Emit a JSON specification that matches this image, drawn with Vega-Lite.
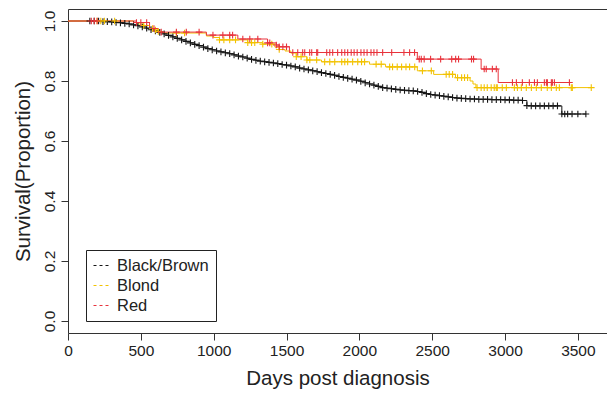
{
  "$schema": "https://vega.github.io/schema/vega-lite/v6.json",
  "width": 539,
  "height": 324,
  "autosize": {"type": "none"},
  "padding": {"left": 68, "top": 9, "right": 0, "bottom": 60},
  "background": "white",
  "config": {
    "view": {"stroke": "#333", "strokeWidth": 1},
    "font": "Liberation Sans",
    "axis": {
      "grid": false, "domain": false, "tickSize": 7, "tickColor": "#333",
      "labelFontSize": 15.5, "titleFontSize": 20.5, "labelColor": "#222", "titleColor": "#222",
      "titleFontWeight": "normal", "labelFont": "Liberation Sans", "titleFont": "Liberation Sans"
    }
  },
  "data": {"values": [
    {"g":"Black/Brown","t":0,"s":1.0,"c":0},
    {"g":"Black/Brown","t":150,"s":1.0,"c":1},{"g":"Black/Brown","t":180,"s":1.0,"c":1},{"g":"Black/Brown","t":210,"s":1.0,"c":1},{"g":"Black/Brown","t":240,"s":0.998,"c":1},{"g":"Black/Brown","t":270,"s":0.998,"c":1},{"g":"Black/Brown","t":300,"s":0.997,"c":1},{"g":"Black/Brown","t":330,"s":0.995,"c":1},{"g":"Black/Brown","t":360,"s":0.994,"c":1},{"g":"Black/Brown","t":390,"s":0.992,"c":1},{"g":"Black/Brown","t":420,"s":0.99,"c":1},{"g":"Black/Brown","t":450,"s":0.987,"c":1},{"g":"Black/Brown","t":480,"s":0.984,"c":1},{"g":"Black/Brown","t":510,"s":0.98,"c":1},{"g":"Black/Brown","t":540,"s":0.976,"c":1},{"g":"Black/Brown","t":570,"s":0.971,"c":1},{"g":"Black/Brown","t":600,"s":0.967,"c":1},{"g":"Black/Brown","t":630,"s":0.962,"c":1},{"g":"Black/Brown","t":660,"s":0.957,"c":1},{"g":"Black/Brown","t":690,"s":0.952,"c":1},{"g":"Black/Brown","t":720,"s":0.947,"c":1},{"g":"Black/Brown","t":750,"s":0.942,"c":1},{"g":"Black/Brown","t":780,"s":0.937,"c":1},{"g":"Black/Brown","t":810,"s":0.932,"c":1},{"g":"Black/Brown","t":840,"s":0.927,"c":1},{"g":"Black/Brown","t":870,"s":0.922,"c":1},{"g":"Black/Brown","t":900,"s":0.918,"c":1},{"g":"Black/Brown","t":930,"s":0.913,"c":1},{"g":"Black/Brown","t":960,"s":0.908,"c":1},{"g":"Black/Brown","t":990,"s":0.904,"c":1},{"g":"Black/Brown","t":1020,"s":0.9,"c":1},{"g":"Black/Brown","t":1050,"s":0.897,"c":1},{"g":"Black/Brown","t":1080,"s":0.894,"c":1},{"g":"Black/Brown","t":1110,"s":0.891,"c":1},{"g":"Black/Brown","t":1140,"s":0.887,"c":1},{"g":"Black/Brown","t":1170,"s":0.883,"c":1},{"g":"Black/Brown","t":1200,"s":0.88,"c":1},{"g":"Black/Brown","t":1230,"s":0.876,"c":1},{"g":"Black/Brown","t":1260,"s":0.872,"c":1},{"g":"Black/Brown","t":1290,"s":0.869,"c":1},{"g":"Black/Brown","t":1320,"s":0.866,"c":1},{"g":"Black/Brown","t":1350,"s":0.864,"c":1},{"g":"Black/Brown","t":1380,"s":0.862,"c":1},{"g":"Black/Brown","t":1410,"s":0.86,"c":1},{"g":"Black/Brown","t":1440,"s":0.858,"c":1},{"g":"Black/Brown","t":1470,"s":0.855,"c":1},{"g":"Black/Brown","t":1500,"s":0.853,"c":1},{"g":"Black/Brown","t":1530,"s":0.85,"c":1},{"g":"Black/Brown","t":1560,"s":0.847,"c":1},{"g":"Black/Brown","t":1590,"s":0.843,"c":1},{"g":"Black/Brown","t":1620,"s":0.84,"c":1},{"g":"Black/Brown","t":1650,"s":0.837,"c":1},{"g":"Black/Brown","t":1680,"s":0.834,"c":1},{"g":"Black/Brown","t":1710,"s":0.831,"c":1},{"g":"Black/Brown","t":1740,"s":0.828,"c":1},{"g":"Black/Brown","t":1770,"s":0.825,"c":1},{"g":"Black/Brown","t":1800,"s":0.822,"c":1},{"g":"Black/Brown","t":1830,"s":0.819,"c":1},{"g":"Black/Brown","t":1860,"s":0.815,"c":1},{"g":"Black/Brown","t":1890,"s":0.812,"c":1},{"g":"Black/Brown","t":1920,"s":0.809,"c":1},{"g":"Black/Brown","t":1950,"s":0.806,"c":1},{"g":"Black/Brown","t":1980,"s":0.803,"c":1},{"g":"Black/Brown","t":2010,"s":0.799,"c":1},{"g":"Black/Brown","t":2040,"s":0.794,"c":1},{"g":"Black/Brown","t":2070,"s":0.79,"c":1},{"g":"Black/Brown","t":2100,"s":0.786,"c":1},{"g":"Black/Brown","t":2130,"s":0.782,"c":1},{"g":"Black/Brown","t":2160,"s":0.778,"c":1},{"g":"Black/Brown","t":2190,"s":0.776,"c":1},{"g":"Black/Brown","t":2220,"s":0.774,"c":1},{"g":"Black/Brown","t":2250,"s":0.772,"c":1},{"g":"Black/Brown","t":2280,"s":0.77,"c":1},{"g":"Black/Brown","t":2310,"s":0.769,"c":1},{"g":"Black/Brown","t":2340,"s":0.768,"c":1},{"g":"Black/Brown","t":2370,"s":0.767,"c":1},{"g":"Black/Brown","t":2400,"s":0.765,"c":1},{"g":"Black/Brown","t":2430,"s":0.762,"c":1},{"g":"Black/Brown","t":2460,"s":0.758,"c":1},{"g":"Black/Brown","t":2490,"s":0.755,"c":1},{"g":"Black/Brown","t":2520,"s":0.753,"c":1},{"g":"Black/Brown","t":2550,"s":0.751,"c":1},{"g":"Black/Brown","t":2580,"s":0.749,"c":1},{"g":"Black/Brown","t":2610,"s":0.747,"c":1},{"g":"Black/Brown","t":2640,"s":0.745,"c":1},{"g":"Black/Brown","t":2670,"s":0.743,"c":1},{"g":"Black/Brown","t":2700,"s":0.742,"c":1},{"g":"Black/Brown","t":2730,"s":0.741,"c":1},{"g":"Black/Brown","t":2760,"s":0.74,"c":1},{"g":"Black/Brown","t":2790,"s":0.74,"c":1},{"g":"Black/Brown","t":2820,"s":0.739,"c":1},{"g":"Black/Brown","t":2850,"s":0.739,"c":1},{"g":"Black/Brown","t":2880,"s":0.739,"c":1},{"g":"Black/Brown","t":2910,"s":0.738,"c":1},{"g":"Black/Brown","t":2940,"s":0.738,"c":1},{"g":"Black/Brown","t":2970,"s":0.738,"c":1},{"g":"Black/Brown","t":3000,"s":0.737,"c":1},{"g":"Black/Brown","t":3030,"s":0.737,"c":1},{"g":"Black/Brown","t":3060,"s":0.736,"c":1},{"g":"Black/Brown","t":3090,"s":0.736,"c":1},{"g":"Black/Brown","t":3120,"s":0.735,"c":1},{"g":"Black/Brown","t":3150,"s":0.718,"c":1},{"g":"Black/Brown","t":3180,"s":0.717,"c":1},{"g":"Black/Brown","t":3210,"s":0.717,"c":1},{"g":"Black/Brown","t":3240,"s":0.717,"c":1},{"g":"Black/Brown","t":3270,"s":0.717,"c":1},{"g":"Black/Brown","t":3300,"s":0.717,"c":1},{"g":"Black/Brown","t":3330,"s":0.717,"c":1},{"g":"Black/Brown","t":3360,"s":0.717,"c":1},{"g":"Black/Brown","t":3390,"s":0.69,"c":1},{"g":"Black/Brown","t":3410,"s":0.69,"c":1},{"g":"Black/Brown","t":3430,"s":0.69,"c":1},{"g":"Black/Brown","t":3460,"s":0.69,"c":1},{"g":"Black/Brown","t":3500,"s":0.69,"c":1},{"g":"Black/Brown","t":3555,"s":0.69,"c":1},

    {"g":"Blond","t":0,"s":1.0,"c":0},
    {"g":"Blond","t":200,"s":1.0,"c":1},{"g":"Blond","t":225,"s":1.0,"c":1},{"g":"Blond","t":250,"s":1.0,"c":1},{"g":"Blond","t":320,"s":1.0,"c":1},{"g":"Blond","t":450,"s":0.995,"c":0},{"g":"Blond","t":480,"s":0.99,"c":0},{"g":"Blond","t":520,"s":0.985,"c":1},{"g":"Blond","t":560,"s":0.975,"c":0},{"g":"Blond","t":580,"s":0.975,"c":1},{"g":"Blond","t":600,"s":0.97,"c":1},{"g":"Blond","t":620,"s":0.965,"c":1},{"g":"Blond","t":650,"s":0.96,"c":0},{"g":"Blond","t":744,"s":0.96,"c":1},{"g":"Blond","t":800,"s":0.96,"c":1},{"g":"Blond","t":950,"s":0.95,"c":0},{"g":"Blond","t":1000,"s":0.945,"c":0},{"g":"Blond","t":1040,"s":0.937,"c":1},{"g":"Blond","t":1070,"s":0.937,"c":1},{"g":"Blond","t":1110,"s":0.937,"c":1},{"g":"Blond","t":1150,"s":0.937,"c":1},{"g":"Blond","t":1234,"s":0.928,"c":1},{"g":"Blond","t":1260,"s":0.928,"c":1},{"g":"Blond","t":1282,"s":0.928,"c":1},{"g":"Blond","t":1337,"s":0.923,"c":1},{"g":"Blond","t":1399,"s":0.923,"c":1},{"g":"Blond","t":1420,"s":0.913,"c":0},{"g":"Blond","t":1450,"s":0.905,"c":1},{"g":"Blond","t":1490,"s":0.9,"c":0},{"g":"Blond","t":1530,"s":0.893,"c":0},{"g":"Blond","t":1567,"s":0.881,"c":1},{"g":"Blond","t":1600,"s":0.881,"c":1},{"g":"Blond","t":1640,"s":0.87,"c":1},{"g":"Blond","t":1660,"s":0.87,"c":1},{"g":"Blond","t":1707,"s":0.87,"c":1},{"g":"Blond","t":1740,"s":0.864,"c":0},{"g":"Blond","t":1762,"s":0.864,"c":1},{"g":"Blond","t":1797,"s":0.864,"c":1},{"g":"Blond","t":1831,"s":0.864,"c":1},{"g":"Blond","t":1879,"s":0.864,"c":1},{"g":"Blond","t":1900,"s":0.864,"c":1},{"g":"Blond","t":1920,"s":0.864,"c":1},{"g":"Blond","t":1954,"s":0.864,"c":1},{"g":"Blond","t":1989,"s":0.864,"c":1},{"g":"Blond","t":2015,"s":0.864,"c":1},{"g":"Blond","t":2036,"s":0.864,"c":1},{"g":"Blond","t":2070,"s":0.856,"c":0},{"g":"Blond","t":2115,"s":0.856,"c":1},{"g":"Blond","t":2150,"s":0.856,"c":1},{"g":"Blond","t":2180,"s":0.847,"c":0},{"g":"Blond","t":2208,"s":0.847,"c":1},{"g":"Blond","t":2228,"s":0.847,"c":1},{"g":"Blond","t":2260,"s":0.847,"c":1},{"g":"Blond","t":2290,"s":0.847,"c":1},{"g":"Blond","t":2320,"s":0.847,"c":1},{"g":"Blond","t":2345,"s":0.847,"c":1},{"g":"Blond","t":2380,"s":0.847,"c":1},{"g":"Blond","t":2398,"s":0.834,"c":0},{"g":"Blond","t":2433,"s":0.834,"c":1},{"g":"Blond","t":2494,"s":0.834,"c":1},{"g":"Blond","t":2510,"s":0.822,"c":0},{"g":"Blond","t":2596,"s":0.822,"c":1},{"g":"Blond","t":2617,"s":0.822,"c":1},{"g":"Blond","t":2640,"s":0.822,"c":1},{"g":"Blond","t":2660,"s":0.811,"c":0},{"g":"Blond","t":2674,"s":0.811,"c":1},{"g":"Blond","t":2702,"s":0.811,"c":1},{"g":"Blond","t":2722,"s":0.811,"c":1},{"g":"Blond","t":2743,"s":0.811,"c":1},{"g":"Blond","t":2760,"s":0.8,"c":0},{"g":"Blond","t":2780,"s":0.79,"c":0},{"g":"Blond","t":2800,"s":0.778,"c":0},{"g":"Blond","t":2808,"s":0.778,"c":1},{"g":"Blond","t":2836,"s":0.778,"c":1},{"g":"Blond","t":2857,"s":0.778,"c":1},{"g":"Blond","t":2878,"s":0.778,"c":1},{"g":"Blond","t":2905,"s":0.778,"c":1},{"g":"Blond","t":2926,"s":0.778,"c":1},{"g":"Blond","t":2940,"s":0.778,"c":1},{"g":"Blond","t":2947,"s":0.778,"c":1},{"g":"Blond","t":2981,"s":0.778,"c":1},{"g":"Blond","t":3009,"s":0.778,"c":1},{"g":"Blond","t":3064,"s":0.778,"c":1},{"g":"Blond","t":3085,"s":0.778,"c":1},{"g":"Blond","t":3112,"s":0.778,"c":1},{"g":"Blond","t":3146,"s":0.778,"c":1},{"g":"Blond","t":3181,"s":0.778,"c":1},{"g":"Blond","t":3215,"s":0.778,"c":1},{"g":"Blond","t":3249,"s":0.778,"c":1},{"g":"Blond","t":3290,"s":0.778,"c":1},{"g":"Blond","t":3318,"s":0.778,"c":1},{"g":"Blond","t":3352,"s":0.778,"c":1},{"g":"Blond","t":3373,"s":0.778,"c":1},{"g":"Blond","t":3455,"s":0.778,"c":1},{"g":"Blond","t":3462,"s":0.778,"c":1},{"g":"Blond","t":3592,"s":0.778,"c":1},

    {"g":"Red","t":0,"s":1.0,"c":0},
    {"g":"Red","t":160,"s":1.0,"c":1},{"g":"Red","t":180,"s":1.0,"c":1},{"g":"Red","t":200,"s":1.0,"c":1},{"g":"Red","t":470,"s":0.995,"c":1},{"g":"Red","t":500,"s":0.995,"c":1},{"g":"Red","t":540,"s":0.995,"c":1},{"g":"Red","t":560,"s":0.975,"c":0},{"g":"Red","t":590,"s":0.975,"c":1},{"g":"Red","t":620,"s":0.963,"c":0},{"g":"Red","t":640,"s":0.963,"c":1},{"g":"Red","t":744,"s":0.963,"c":1},{"g":"Red","t":812,"s":0.963,"c":1},{"g":"Red","t":900,"s":0.963,"c":1},{"g":"Red","t":950,"s":0.953,"c":0},{"g":"Red","t":995,"s":0.953,"c":1},{"g":"Red","t":1063,"s":0.953,"c":1},{"g":"Red","t":1110,"s":0.953,"c":1},{"g":"Red","t":1130,"s":0.953,"c":1},{"g":"Red","t":1166,"s":0.94,"c":0},{"g":"Red","t":1200,"s":0.94,"c":1},{"g":"Red","t":1248,"s":0.94,"c":1},{"g":"Red","t":1303,"s":0.94,"c":1},{"g":"Red","t":1370,"s":0.927,"c":1},{"g":"Red","t":1385,"s":0.927,"c":1},{"g":"Red","t":1430,"s":0.92,"c":1},{"g":"Red","t":1450,"s":0.914,"c":1},{"g":"Red","t":1475,"s":0.914,"c":1},{"g":"Red","t":1500,"s":0.914,"c":1},{"g":"Red","t":1520,"s":0.895,"c":0},{"g":"Red","t":1543,"s":0.895,"c":1},{"g":"Red","t":1577,"s":0.895,"c":1},{"g":"Red","t":1611,"s":0.895,"c":1},{"g":"Red","t":1625,"s":0.895,"c":1},{"g":"Red","t":1659,"s":0.895,"c":1},{"g":"Red","t":1673,"s":0.895,"c":1},{"g":"Red","t":1707,"s":0.895,"c":1},{"g":"Red","t":1714,"s":0.895,"c":1},{"g":"Red","t":1776,"s":0.895,"c":1},{"g":"Red","t":1797,"s":0.895,"c":1},{"g":"Red","t":1817,"s":0.895,"c":1},{"g":"Red","t":1851,"s":0.895,"c":1},{"g":"Red","t":1879,"s":0.895,"c":1},{"g":"Red","t":1900,"s":0.895,"c":1},{"g":"Red","t":1920,"s":0.895,"c":1},{"g":"Red","t":1944,"s":0.895,"c":1},{"g":"Red","t":1964,"s":0.895,"c":1},{"g":"Red","t":1985,"s":0.895,"c":1},{"g":"Red","t":2011,"s":0.895,"c":1},{"g":"Red","t":2032,"s":0.895,"c":1},{"g":"Red","t":2053,"s":0.895,"c":1},{"g":"Red","t":2080,"s":0.895,"c":1},{"g":"Red","t":2100,"s":0.895,"c":1},{"g":"Red","t":2121,"s":0.895,"c":1},{"g":"Red","t":2160,"s":0.895,"c":1},{"g":"Red","t":2222,"s":0.895,"c":1},{"g":"Red","t":2306,"s":0.895,"c":1},{"g":"Red","t":2345,"s":0.895,"c":1},{"g":"Red","t":2379,"s":0.895,"c":1},{"g":"Red","t":2398,"s":0.873,"c":0},{"g":"Red","t":2411,"s":0.873,"c":1},{"g":"Red","t":2425,"s":0.873,"c":1},{"g":"Red","t":2445,"s":0.873,"c":1},{"g":"Red","t":2489,"s":0.873,"c":1},{"g":"Red","t":2558,"s":0.873,"c":1},{"g":"Red","t":2634,"s":0.873,"c":1},{"g":"Red","t":2661,"s":0.873,"c":1},{"g":"Red","t":2681,"s":0.873,"c":1},{"g":"Red","t":2770,"s":0.873,"c":1},{"g":"Red","t":2784,"s":0.873,"c":1},{"g":"Red","t":2836,"s":0.84,"c":0},{"g":"Red","t":2857,"s":0.84,"c":1},{"g":"Red","t":2871,"s":0.84,"c":1},{"g":"Red","t":2913,"s":0.84,"c":1},{"g":"Red","t":2940,"s":0.84,"c":1},{"g":"Red","t":2953,"s":0.795,"c":0},{"g":"Red","t":3051,"s":0.795,"c":1},{"g":"Red","t":3078,"s":0.795,"c":1},{"g":"Red","t":3119,"s":0.795,"c":1},{"g":"Red","t":3167,"s":0.795,"c":1},{"g":"Red","t":3202,"s":0.795,"c":1},{"g":"Red","t":3222,"s":0.795,"c":1},{"g":"Red","t":3270,"s":0.795,"c":1},{"g":"Red","t":3284,"s":0.795,"c":1},{"g":"Red","t":3291,"s":0.795,"c":1},{"g":"Red","t":3318,"s":0.795,"c":1},{"g":"Red","t":3325,"s":0.795,"c":1},{"g":"Red","t":3339,"s":0.795,"c":1},{"g":"Red","t":3442,"s":0.795,"c":1},{"g":"Red","t":3454,"s":0.795,"c":0}
  ]},
  "encoding": {
    "x": {"field": "t", "type": "quantitative",
      "scale": {"domain": [0, 3700], "nice": false, "zero": false},
      "axis": {"title": "Days post diagnosis", "values": [0,500,1000,1500,2000,2500,3000,3500], "format": "d", "labelPadding": 3, "titlePadding": 10, "labelFlush": false}},
    "y": {"field": "s", "type": "quantitative",
      "scale": {"domain": [-0.04, 1.04], "nice": false, "zero": false},
      "axis": {"title": "Survival(Proportion)", "values": [0,0.2,0.4,0.6,0.8,1.0], "format": ".1f", "labelAngle": -90, "labelPadding": 4, "titlePadding": 9, "labelFlush": false}},
    "color": {"field": "g", "type": "nominal",
      "scale": {"domain": ["Black/Brown","Blond","Red"], "range": ["#151515","#f2c200","#e8333c"]},
      "legend": {"title": null, "orient": "none", "legendX": 18, "legendY": 241,
        "symbolType": "stroke", "symbolDash": [3,3], "symbolStrokeWidth": 1, "symbolSize": 256,
        "labelFontSize": 16.5, "labelColor": "#222", "labelFont": "Liberation Sans", "labelOffset": 7,
        "rowPadding": 3, "padding": 7, "strokeColor": "#222", "fillColor": "white"}}
  },
  "layer": [
    {"mark": {"type": "line", "interpolate": "step-after", "strokeWidth": 1, "clip": true}},
    {"transform": [{"filter": "datum.c == 1"}],
     "mark": {"type": "point", "shape": "M-1,0H1M0,-1V1", "size": 45, "filled": false, "strokeWidth": 1.1, "opacity": 1, "clip": true}}
  ]
}
